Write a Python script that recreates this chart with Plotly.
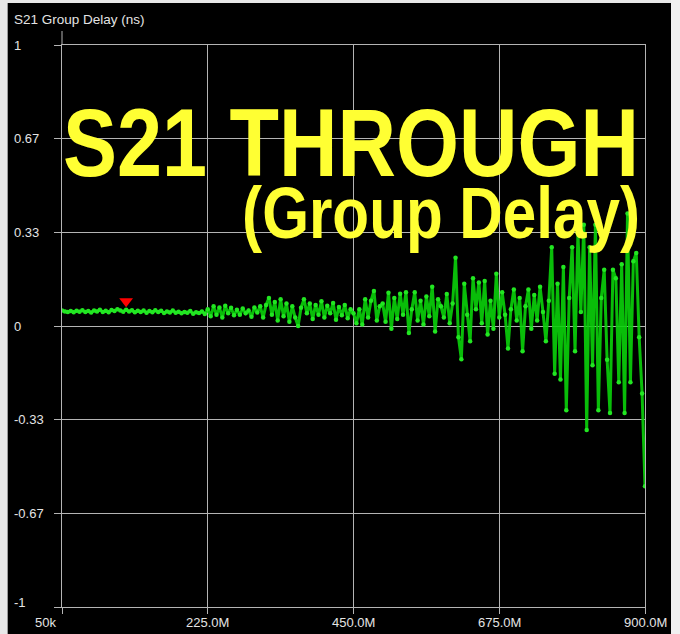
import plotly.graph_objects as go

# ---------------- data ----------------
start_hz = 50e3
stop_hz = 900e6
n_points = 201
freq_hz = [start_hz + (stop_hz - start_hz) * i / (n_points - 1) for i in range(n_points)]

group_delay_ns = [
    0.055, 0.052, 0.050, 0.053, 0.049, 0.054, 0.051, 0.056, 0.050, 0.053,
    0.048, 0.055, 0.052, 0.058, 0.050, 0.054, 0.049, 0.057, 0.053, 0.060,
    0.055, 0.051, 0.058, 0.052, 0.056, 0.049, 0.054, 0.050, 0.055, 0.047,
    0.053, 0.049, 0.056, 0.050, 0.054, 0.046, 0.052, 0.048, 0.055, 0.047,
    0.051, 0.045, 0.050, 0.047, 0.053, 0.044, 0.049, 0.046, 0.052, 0.043,
    0.060, 0.035, 0.070, 0.040, 0.066, 0.030, 0.072, 0.045, 0.065, 0.038,
    0.058, 0.040, 0.062, 0.045, 0.055, 0.033, 0.066, 0.048, 0.070, 0.030,
    0.075, 0.100, 0.040, 0.085, 0.020, 0.095, 0.035, 0.080, 0.015, 0.070,
    0.030, 0.000, 0.065, 0.095, 0.045, 0.080, 0.025, 0.075, 0.040, 0.088,
    0.030, 0.072, 0.045, 0.082, 0.022, 0.068, 0.038, 0.075, 0.028, 0.060,
    0.045, 0.010, 0.060, 0.005, 0.095, 0.030, 0.090, 0.125, 0.020, 0.070,
    0.080, 0.015, 0.118, -0.010, 0.100, 0.025, 0.115, 0.040, 0.120, -0.025,
    0.060, 0.120, 0.020, 0.090, 0.005, 0.105, 0.035, 0.140, -0.020, 0.095,
    0.070, 0.030, 0.114, 0.010, 0.080, 0.243, -0.040, -0.118, 0.150, 0.040,
    -0.054, 0.170, 0.060, 0.155, 0.010, 0.160, -0.030, 0.090, -0.010, 0.186,
    0.030, 0.120, 0.040, -0.080, 0.060, 0.130, 0.020, 0.100, -0.090, 0.070,
    0.130, -0.010, 0.110, 0.020, 0.140, 0.050, -0.054, 0.090, 0.280, -0.170,
    0.150, -0.190, 0.210, -0.300, 0.100, 0.280, -0.090, 0.330, 0.050, 0.360,
    -0.370, 0.280, -0.140, 0.360, -0.300, 0.100, 0.200, -0.120, -0.310, 0.200,
    0.170, -0.200, 0.220, -0.310, 0.400, -0.200, 0.230, 0.260, -0.040, -0.240, -0.570,
]

marker_freq_hz = [99e6]
marker_delay_ns = [0.088]

y_tick_vals = [1, 2 / 3, 1 / 3, 0, -1 / 3, -2 / 3, -1]
y_tick_text = ["1", "0.67", "0.33", "0", "-0.33", "-0.67", "-1"]
x_tick_vals = [50e3, 225e6, 450e6, 675e6, 900e6]
x_tick_text = ["50k", "225.0M", "450.0M", "675.0M", "900.0M"]

chart_title = "S21 Group Delay (ns)"
overlay_line1 = "S21 THROUGH"
overlay_line2 = "(Group Delay)"

# ---------------- layout geometry ----------------
W, H = 680, 634
L, R, T, B = 62, 35, 45, 27
PW, PH = W - L - R, H - T - B


def px(xp):
    return (xp - L) / PW


def py(yp):
    return (H - B - yp) / PH


GRID = "#b4b4b4"
LABEL = "#e4e4e4"
FONT = "Liberation Sans, Arial, sans-serif"
BIG_FONT = "Liberation Sans Narrow, Arial Narrow, Liberation Sans, Arial"

fig = go.Figure()
fig.add_trace(go.Scatter(
    x=freq_hz, y=group_delay_ns, mode="lines+markers",
    line=dict(color="rgba(10,210,10,0.9)", width=3),
    marker=dict(color="#22e622", size=4.5, line=dict(width=0)),
    showlegend=False, hoverinfo="skip",
))
fig.add_trace(go.Scatter(
    x=marker_freq_hz, y=marker_delay_ns, mode="markers",
    marker=dict(symbol="triangle-down", color="#ff0000", size=12, line=dict(width=0)),
    showlegend=False, hoverinfo="skip",
))

annotations = []
for v, t in zip(y_tick_vals, y_tick_text):
    annotations.append(dict(
        x=px(12), xref="paper", xanchor="left", y=v, yref="y", yanchor="middle",
        yshift=5 if v == -1 else 0,
        text=t, showarrow=False, font=dict(family=FONT, size=13, color=LABEL),
    ))
for i, (v, t) in enumerate(zip(x_tick_vals, x_tick_text)):
    annotations.append(dict(
        x=v, xref="x", xanchor="right" if i == 0 else "center",
        xshift=-4 if i == 0 else 0,
        y=py(622), yref="paper", yanchor="middle",
        text=t, showarrow=False, font=dict(family=FONT, size=13, color=LABEL),
    ))
annotations.append(dict(
    x=px(12), xref="paper", xanchor="left", y=py(19), yref="paper", yanchor="middle",
    text=chart_title, showarrow=False, font=dict(family=FONT, size=13.5, color=LABEL),
))
annotations.append(dict(
    x=px(641), xref="paper", xanchor="right", y=py(142), yref="paper", yanchor="middle",
    text=overlay_line1, showarrow=False,
    font=dict(family=BIG_FONT, size=97, color="#ffff33", weight="bold"),
))
annotations.append(dict(
    x=px(642), xref="paper", xanchor="right", y=py(213), yref="paper", yanchor="middle",
    text=overlay_line2, showarrow=False,
    font=dict(family=BIG_FONT, size=72, color="#ffff33", weight="bold"),
))

shapes = [
    # window borders
    dict(type="rect", xref="paper", yref="paper", x0=px(0), x1=px(7), y0=py(H), y1=py(0),
         fillcolor="#e8e8e8", line=dict(width=0), layer="below"),
    dict(type="rect", xref="paper", yref="paper", x0=px(7), x1=px(8), y0=py(H), y1=py(3),
         fillcolor="#9a9a9a", line=dict(width=0), layer="below"),
    dict(type="rect", xref="paper", yref="paper", x0=px(0), x1=px(W), y0=py(3), y1=py(0),
         fillcolor="#e8e8e8", line=dict(width=0), layer="below"),
    dict(type="rect", xref="paper", yref="paper", x0=px(671), x1=px(W), y0=py(H), y1=py(0),
         fillcolor="#f0f0f0", line=dict(width=0), layer="below"),
    # axis line extension above plot
    dict(type="line", xref="paper", yref="paper", x0=0, x1=0, y0=1, y1=py(31),
         line=dict(color=GRID, width=1)),
]

fig.update_layout(
    width=W, height=H,
    margin=dict(l=L, r=R, t=T, b=B),
    paper_bgcolor="#000000", plot_bgcolor="#000000",
    annotations=annotations, shapes=shapes,
    xaxis=dict(range=[start_hz, stop_hz], tickvals=x_tick_vals, showticklabels=False,
               showgrid=True, gridcolor=GRID, gridwidth=1, zeroline=False,
               showline=True, linecolor=GRID, linewidth=1, mirror=True,
               ticks="outside", ticklen=6, tickcolor=GRID, tickwidth=1, fixedrange=True),
    yaxis=dict(range=[-1, 1], tickvals=y_tick_vals, showticklabels=False,
               showgrid=True, gridcolor=GRID, gridwidth=1, zeroline=False,
               showline=True, linecolor=GRID, linewidth=1, mirror=True,
               ticks="outside", ticklen=7, tickcolor=GRID, tickwidth=1, fixedrange=True),
)

# Remove the default page margin and give the big overlay text the narrow
# proportions of the original (condensed bold face), scaled about its right edge.
post_js = """
document.body.style.margin = '0';
document.body.style.overflow = 'hidden';
var gd = document.getElementById('{plot_id}');
function squeeze() {
  var want = {'S21 THROUGH': 576, '(Group Delay)': 398};
  gd.querySelectorAll('text.annotation-text').forEach(function (t) {
    var w = want[t.textContent];
    if (!w) return;
    t.removeAttribute('transform');
    var b = t.getBBox();
    if (!b.width) return;
    var s = w / b.width;
    if (s >= 0.98) return;
    var xr = b.x + b.width;
    t.setAttribute('transform', 'translate(' + xr + ',0) scale(' + s + ',1) translate(' + (-xr) + ',0)');
  });
}
squeeze();
if (document.fonts && document.fonts.ready) { document.fonts.ready.then(squeeze); }
"""

fig.write_html("out.html", config={"displayModeBar": False}, post_script=post_js)
